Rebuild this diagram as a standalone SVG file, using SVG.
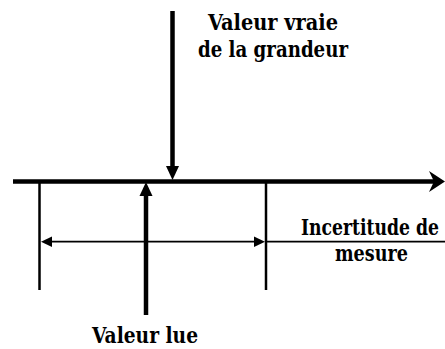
<svg xmlns="http://www.w3.org/2000/svg" width="445" height="349" viewBox="0 0 445 349">
<defs>
<style>
.t{font-family:'DejaVu Serif Condensed','DejaVu Serif',serif;font-stretch:condensed;font-weight:bold;font-size:22.5px;fill:#000}
.thick{stroke:#000;stroke-width:4.5;fill:none}
.mid{stroke:#000;stroke-width:2.5;fill:none}
.thin{stroke:#000;stroke-width:1.8;fill:none}
</style>
</defs>
<rect width="445" height="349" fill="#fff"/>
<g id="connectors">
<line class="thick" x1="13" y1="181.5" x2="436" y2="181.5"/>
<path d="M445,181.5 L429,171 L434,181.5 L429,192 Z" fill="#000"/>
<line class="thick" x1="172.5" y1="11" x2="172.5" y2="168"/>
<path d="M172.5,180 L166,166 L179,166 Z" fill="#000"/>
<line class="thick" x1="146" y1="315" x2="146" y2="194"/>
<path d="M146,182 L139.5,196 L152.5,196 Z" fill="#000"/>
<line class="mid" x1="39.5" y1="181" x2="39.5" y2="290"/>
<line class="mid" x1="266" y1="181" x2="266" y2="290"/>
<line class="thin" x1="50" y1="241.7" x2="256" y2="241.7"/>
<path d="M41,241.7 L52,236.5 L52,247 Z" fill="#000"/>
<path d="M265,241.7 L254,236.5 L254,247 Z" fill="#000"/>
<line class="thin" x1="266" y1="241.7" x2="445" y2="241.7"/>
</g>
<g id="vraie">
<text class="t" x="208" y="30" textLength="130" lengthAdjust="spacingAndGlyphs">Valeur vraie</text>
<text class="t" x="198" y="57" textLength="150" lengthAdjust="spacingAndGlyphs">de la grandeur</text>
</g>
<g id="incertitude">
<text class="t" x="301" y="235" textLength="138" lengthAdjust="spacingAndGlyphs">Incertitude de</text>
<text class="t" x="335" y="261" textLength="73" lengthAdjust="spacingAndGlyphs">mesure</text>
</g>
<g id="lue">
<text class="t" x="92" y="343" textLength="106" lengthAdjust="spacingAndGlyphs">Valeur lue</text>
</g>
</svg>
